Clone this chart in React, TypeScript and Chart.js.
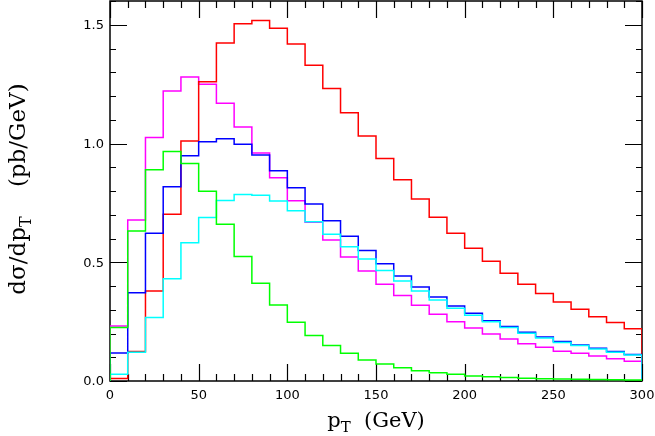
import React, { useEffect, useRef } from "react";
import { Chart, registerables } from "chart.js";

Chart.register(...registerables);

const binLow = [0, 10, 20, 30, 40, 50, 60, 70, 80, 90, 100, 110, 120, 130, 140, 150, 160, 170, 180, 190, 200, 210, 220, 230, 240, 250, 260, 270, 280, 290];
const binHigh = 300;

const red = [0.011, 0.124, 0.379, 0.702, 1.011, 1.26, 1.423, 1.504, 1.518, 1.485, 1.419, 1.329, 1.232, 1.129, 1.032, 0.937, 0.847, 0.766, 0.69, 0.622, 0.559, 0.504, 0.454, 0.407, 0.368, 0.333, 0.302, 0.271, 0.246, 0.22];
const blue = [0.118, 0.372, 0.622, 0.818, 0.948, 1.007, 1.02, 0.997, 0.952, 0.885, 0.814, 0.745, 0.675, 0.61, 0.549, 0.494, 0.442, 0.396, 0.354, 0.316, 0.285, 0.254, 0.229, 0.205, 0.185, 0.166, 0.152, 0.138, 0.124, 0.112];
const cyan = [0.028, 0.121, 0.267, 0.431, 0.582, 0.688, 0.76, 0.785, 0.782, 0.758, 0.717, 0.671, 0.618, 0.565, 0.514, 0.465, 0.421, 0.379, 0.341, 0.306, 0.277, 0.249, 0.225, 0.201, 0.181, 0.162, 0.149, 0.135, 0.121, 0.109];
const magenta = [0.232, 0.678, 1.025, 1.221, 1.28, 1.25, 1.17, 1.07, 0.96, 0.856, 0.759, 0.668, 0.594, 0.522, 0.463, 0.407, 0.36, 0.319, 0.281, 0.25, 0.223, 0.198, 0.177, 0.157, 0.142, 0.125, 0.117, 0.105, 0.094, 0.083];
const green = [0.225, 0.632, 0.889, 0.966, 0.916, 0.799, 0.66, 0.524, 0.412, 0.32, 0.247, 0.192, 0.15, 0.117, 0.088, 0.072, 0.056, 0.043, 0.035, 0.028, 0.021, 0.018, 0.015, 0.012, 0.01, 0.008, 0.007, 0.006, 0.005, 0.004];

const xMin = 0;
const xMax = 300;
const yMin = 0;
const yMax = 1.6;
const xTickLabels = [0, 50, 100, 150, 200, 250, 300];
const yTickLabels = [0, 0.5, 1.0, 1.5];

function histPoints(vals: number[]) {
  const pts: { x: number; y: number }[] = [{ x: binLow[0], y: 0 }];
  vals.forEach((v, i) => pts.push({ x: binLow[i], y: v }));
  pts.push({ x: binHigh, y: vals[vals.length - 1] });
  pts.push({ x: binHigh, y: 0 });
  return pts;
}

type Seg = { t: string; sub?: boolean };

function drawRich(ctx: CanvasRenderingContext2D, segs: Seg[], size: number) {
  const subSize = Math.round(size * 0.7);
  const widths = segs.map((s) => {
    ctx.font = `${s.sub ? subSize : size}px "DejaVu Serif"`;
    return ctx.measureText(s.t).width;
  });
  const total = widths.reduce((a, b) => a + b, 0);
  let x = -total / 2;
  segs.forEach((s, i) => {
    ctx.font = `${s.sub ? subSize : size}px "DejaVu Serif"`;
    ctx.fillText(s.t, x, s.sub ? size * 0.25 : 0);
    x += widths[i];
  });
}

const framePlugin = {
  id: "frameTicks",
  beforeDatasetsDraw(chart: any) {
    const { ctx, chartArea } = chart;
    const { left, right, top, bottom } = chartArea;
    const xs = chart.scales.x;
    const ys = chart.scales.y;
    ctx.save();
    ctx.strokeStyle = "#000";
    ctx.lineWidth = 1.5;
    ctx.strokeRect(left, top, right - left, bottom - top);
    ctx.lineWidth = 1.2;
    ctx.beginPath();
    for (let v = xMin; v <= xMax; v += 10) {
      const px = Math.round(xs.getPixelForValue(v)) + 0.5;
      const len = v % 50 === 0 ? 17 : 7;
      ctx.moveTo(px, bottom);
      ctx.lineTo(px, bottom - len);
      ctx.moveTo(px, top);
      ctx.lineTo(px, top + len);
    }
    for (let k = 0; k <= 16; k++) {
      const v = k / 10;
      const py = Math.round(ys.getPixelForValue(v)) + 0.5;
      const len = k % 5 === 0 ? 17 : 6;
      ctx.moveTo(left, py);
      ctx.lineTo(left + len, py);
      ctx.moveTo(right, py);
      ctx.lineTo(right - len, py);
    }
    ctx.stroke();

    ctx.fillStyle = "#000";
    ctx.font = '13px "DejaVu Sans"';
    ctx.textAlign = "center";
    ctx.textBaseline = "middle";
    xTickLabels.forEach((v) => {
      ctx.fillText(String(v), xs.getPixelForValue(v), bottom + 15);
    });
    ctx.textAlign = "right";
    yTickLabels.forEach((v) => {
      ctx.fillText(v.toFixed(1), left - 6, ys.getPixelForValue(v) + 1);
    });
    ctx.restore();
  },
  afterDraw(chart: any) {
    const { ctx, chartArea } = chart;
    ctx.save();
    ctx.fillStyle = "#000";
    ctx.textBaseline = "alphabetic";
    ctx.textAlign = "left";
    ctx.translate((chartArea.left + chartArea.right) / 2, 427);
    drawRich(ctx, [{ t: "p" }, { t: "T", sub: true }, { t: "  (GeV)" }], 21);
    ctx.restore();
    ctx.save();
    ctx.fillStyle = "#000";
    ctx.textBaseline = "alphabetic";
    ctx.textAlign = "left";
    ctx.translate(25, 189);
    ctx.rotate(-Math.PI / 2);
    drawRich(ctx, [{ t: "dσ/dp" }, { t: "T", sub: true }, { t: "    (pb/GeV)" }], 23);
    ctx.restore();
  },
};

export default function App() {
  const ref = useRef<HTMLCanvasElement>(null);
  useEffect(() => {
    if (!ref.current) return;
    const mk = (label: string, vals: number[], color: string) => ({
      label,
      data: histPoints(vals),
      borderColor: color,
      backgroundColor: color,
      borderWidth: 1.5,
      pointRadius: 0,
      fill: false,
      stepped: "before" as const,
    });
    const chart = new Chart(ref.current, {
      type: "line",
      data: {
        datasets: [
          mk("green", green, "#00ff00"),
          mk("cyan", cyan, "#00ffff"),
          mk("blue", blue, "#0000ff"),
          mk("red", red, "#ff0000"),
          mk("magenta", magenta, "#ff00ff"),
        ],
      },
      options: {
        animation: false,
        responsive: false,
        devicePixelRatio: 1,
        layout: { padding: { top: 1, right: 13, left: 0, bottom: 0 } },
        plugins: { legend: { display: false }, tooltip: { enabled: false } },
        scales: {
          x: {
            type: "linear",
            min: xMin,
            max: xMax,
            afterFit: (scale: any) => {
              scale.height = 55;
            },
            grid: { display: false, drawTicks: false },
            border: { display: false },
            ticks: { display: false },
          },
          y: {
            type: "linear",
            min: yMin,
            max: yMax,
            afterFit: (scale: any) => {
              scale.width = 110;
            },
            grid: { display: false, drawTicks: false },
            border: { display: false },
            ticks: { display: false },
          },
        },
      },
      plugins: [framePlugin],
    });
    return () => chart.destroy();
  }, []);
  return (
    <div style={{ position: "absolute", left: 0, top: 0, width: 655, height: 436, background: "#fff" }}>
      <canvas ref={ref} width={655} height={436} />
    </div>
  );
}
